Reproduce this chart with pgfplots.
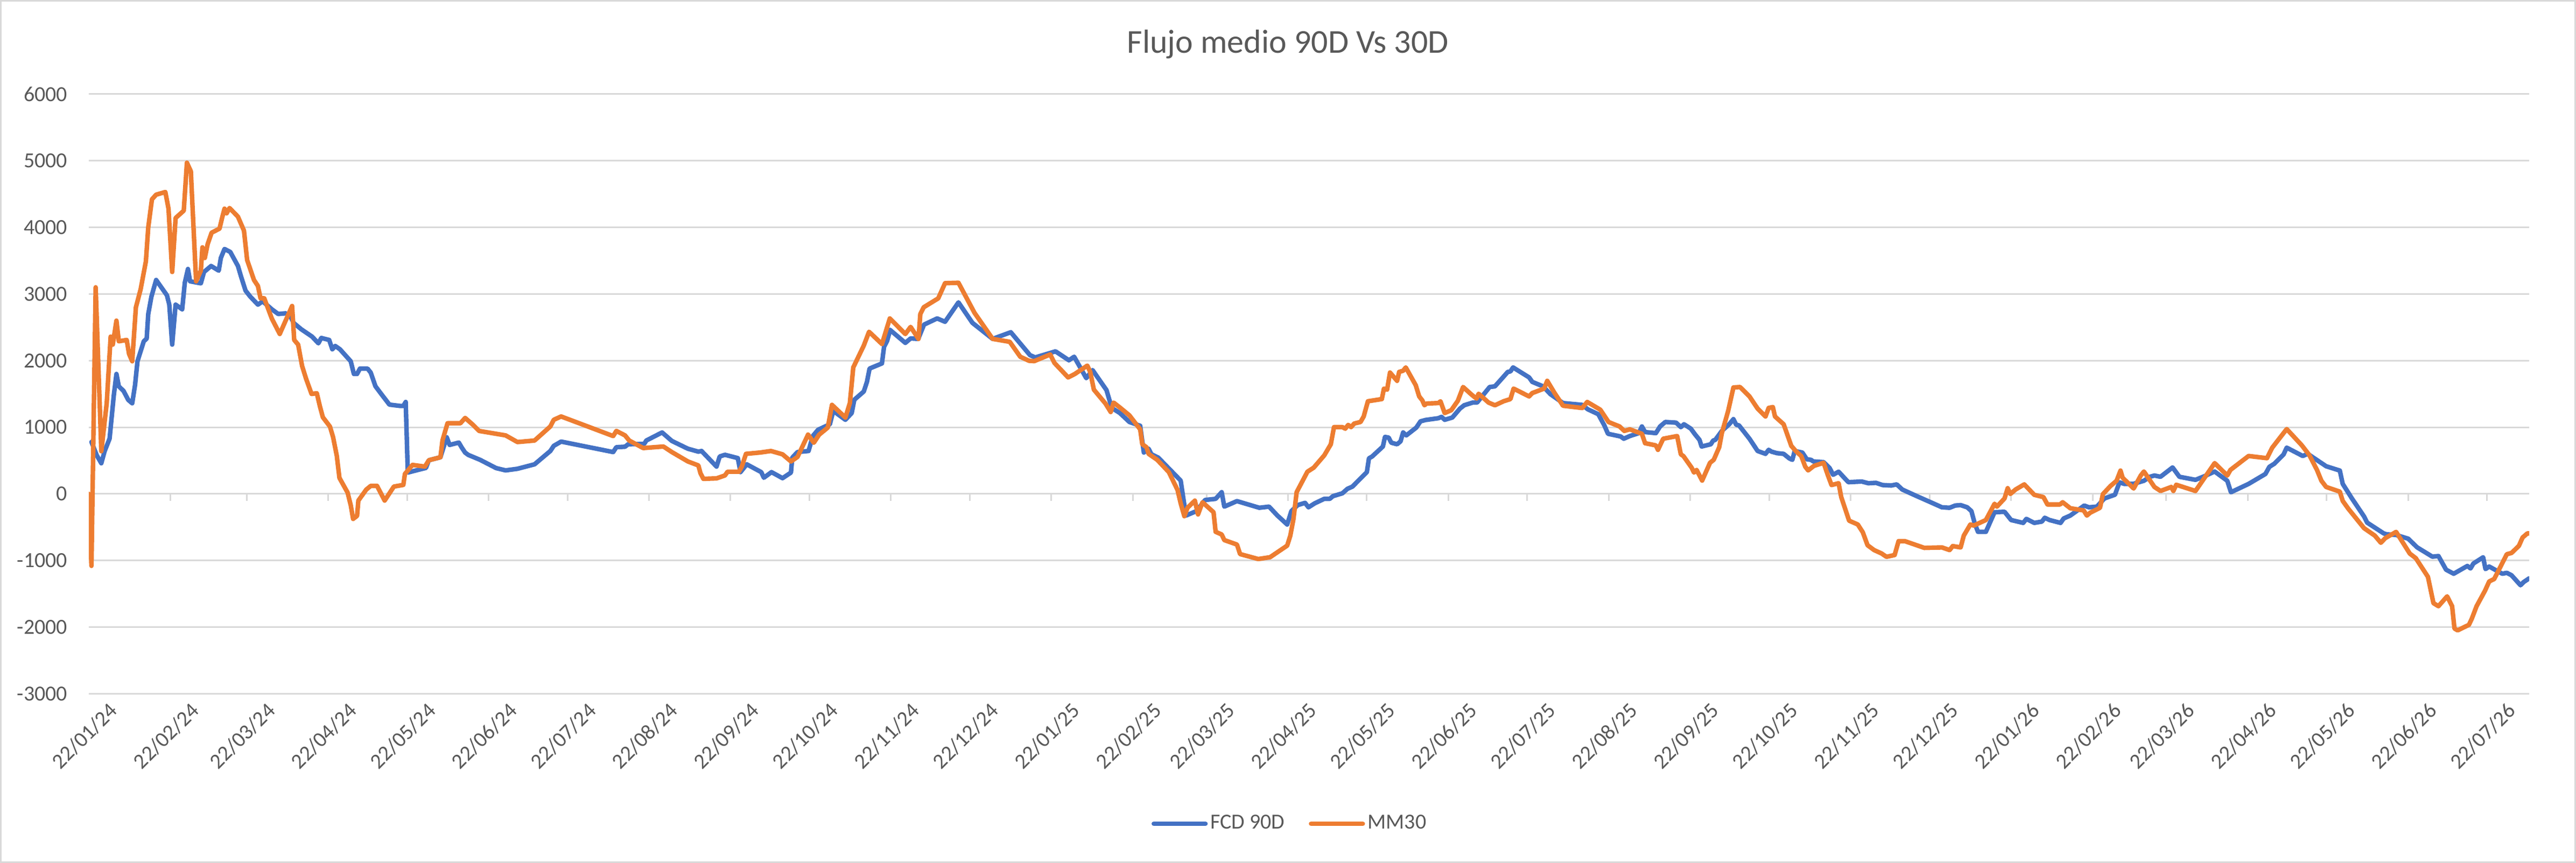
\documentclass[border=0pt]{standalone}
\usepackage{pgfplots}
\usepackage{pgfplotstable}
\pgfplotsset{compat=1.18}
\usepackage{fontspec}
\setmainfont{Carlito}
\definecolor{labelgray}{HTML}{595959}
\definecolor{gridgray}{HTML}{D9D9D9}
\definecolor{fcdblue}{HTML}{4472C4}
\definecolor{mmorange}{HTML}{ED7D31}

\pgfplotstableread{
d v
1 780
3 580
4.75 460
6 640
7.9 830
9.5 1480
10.5 1800
11.4 1615
13.2 1545
15 1410
16.5 1360
17.6 1640
18.5 1990
20.9 2290
22 2330
22.6 2700
23.8 2960
25.6 3210
29.7 2980
30.6 2840
31.7 2240
33 2840
35.5 2770
36.5 3170
37.7 3375
38.5 3190
42.6 3160
43.8 3330
46.5 3420
49.4 3350
50.2 3540
51.6 3675
53.8 3630
56.7 3420
57.9 3260
59.6 3050
61.4 2960
64.3 2840
66.1 2890
69.6 2770
72 2700
74.9 2710
76.7 2660
77.9 2565
80.8 2470
84.9 2360
87.3 2260
88.4 2340
91.4 2310
92.6 2170
93.7 2220
95.5 2170
99.6 1990
100.8 1800
102 1800
103.1 1880
106 1880
107.2 1820
109 1615
110.8 1520
114.3 1340
118.4 1320
119.6 1320
120.5 1380
121.3 320
123.7 345
128.2 390
129.3 505
133.7 550
136.1 850
137.2 735
140.7 770
141.9 690
143.1 620
144.3 585
148.8 511
154.9 387
158.5 353
163 377
169.5 444
175.5 644
176.8 721
179.6 785
199.4 628
200.6 701
203.9 708
205.1 745
211.2 751
212 801
218 922
221.7 795
227.8 678
231.8 634
233 644
238.7 410
239.9 561
241.9 587
246.8 537
247.8 327
250.2 444
255.7 327
256.7 243
259.6 327
263.8 236
267 320
267.5 544
269.5 628
273.7 644
275.3 868
277.3 962
281.8 1045
283.1 1246
287.7 1112
290.1 1213
291.1 1413
294.7 1537
295.9 1681
296.9 1881
301.6 1958
302.4 2206
303.6 2299
304.7 2460
310.5 2266
312.5 2333
315.4 2326
317.6 2540
322.6 2633
325.6 2583
330.7 2874
336 2567
343.7 2326
350.6 2426
357.9 2082
359.9 2048
367.6 2139
372.7 2005
374.7 2058
379.3 1737
381.7 1858
387 1557
389 1290
392.1 1213
395.7 1079
399.8 1022
401.2 621
403 678
404.1 594
406.7 544
415.2 200
417.2 -325
421.2 -258
424.5 -91
428.5 -74
430.8 26
431.8 -191
436.6 -108
445.1 -208
448.8 -191
452 -325
455.7 -459
457.3 -258
459.7 -168
462.5 -134
463.8 -201
466.2 -141
469.8 -74
471.9 -74
473.1 -34
476.7 9
478.6 76
480.5 109
486 327
486.8 534
488 561
492.1 711
492.9 855
494.3 845
495.3 768
497.5 745
498.8 788
499.8 922
501 878
504.8 995
506.4 1089
508.3 1109
513.2 1136
514.4 1156
515.6 1112
518.5 1146
521.4 1280
523 1330
526.2 1370
527.9 1370
532.7 1604
534.7 1614
537.2 1724
539.6 1831
540.6 1838
541.6 1898
547.7 1748
548.9 1681
553 1614
555.8 1497
560.6 1363
567.9 1336
570 1270
574 1196
576.3 1029
577.7 902
582.5 862
583.7 828
586 868
589.4 912
590.6 1012
591.8 928
595.9 912
597.5 1012
599.5 1079
603.6 1069
605.4 1002
606.6 1045
609.2 979
610.9 888
612.5 811
613.3 711
616.8 745
617.7 801
618.5 811
621 945
623.8 1045
625.4 1122
626.5 1035
627.5 1029
631.5 828
634.6 644
637.6 601
638.8 661
639.9 634
642 611
644.5 601
646.6 534
647.8 511
648.7 644
651.6 621
653.3 520
654.9 511
655.8 487
659.7 477
662 387
663.3 287
665.4 333
669.1 176
674.2 186
676.7 160
679.6 166
682.1 133
685.4 126
687.5 143
689.6 66
694.6 -24
701.3 -141
704.7 -201
707.6 -208
709.7 -175
711.8 -168
714.3 -201
715.9 -258
717.2 -449
718.4 -569
721.4 -569
724.7 -275
728.5 -268
731 -392
735.6 -435
736.8 -375
739.8 -435
742.7 -415
743.8 -358
745.6 -392
749.8 -435
751 -368
753.5 -325
758.8 -175
760.6 -201
763.6 -191
766.5 -68
770.5 -12
772.2 174
774 150
777.4 150
781.5 197
783.8 257
785.5 276
787.8 257
792.4 397
795 257
801.1 211
804.6 267
808.4 336
813.2 197
814.6 25
821.3 150
827.7 299
829.2 406
831.1 453
834.6 592
835.8 694
841.9 569
843.8 601
850.8 415
856 350
857.1 150
860.6 -68
865.2 -338
866.4 -431
872.7 -593
873.9 -607
877.4 -616
882 -672
885.4 -802
891.2 -942
893.5 -932
896.4 -1137
899.3 -1198
904.5 -1081
905.7 -1118
906.8 -1044
910.5 -951
911.4 -1128
912.8 -1090
917.8 -1198
919.5 -1184
921.3 -1221
924.7 -1370
925.9 -1323
928 -1267
}\fcdtable

\pgfplotstableread{
d v
0 0
1 -1080
2.6 3100
4.75 640
6.8 1360
8.3 2360
9.1 2240
10.5 2600
11.4 2290
14.4 2310
15.3 2100
16.5 1990
17.9 2800
19.7 3070
21.7 3490
22.6 4000
24 4420
25.6 4490
29.1 4530
30.3 4280
31.7 3330
33 4140
36.1 4250
37.3 4970
38.8 4840
39.7 4090
40.8 3190
42.6 3350
43.2 3700
44.1 3540
45.2 3750
46.7 3920
49.7 3980
50.8 4160
51.6 4280
52.4 4210
53.5 4290
56.7 4160
59 3950
60.2 3510
62.8 3210
64.3 3120
65.3 2935
66.7 2935
69.6 2630
72.6 2400
77.3 2820
78.1 2310
79.6 2240
81.1 1920
82.6 1730
84.7 1500
86.7 1510
87.9 1310
89 1150
91.7 1010
92.9 850
94.3 570
95.3 240
98.4 20
99.6 -170
100.5 -375
102 -330
102.5 -100
105.5 65
107.2 120
109.6 120
112.5 -100
116 110
119.6 135
120.2 300
123.1 435
127.8 410
129.3 505
133.7 550
134.5 805
136.4 1060
141.3 1060
143.1 1140
146 1040
148.4 945
158.5 878
163 778
169.5 801
175.5 1012
176.8 1112
179.6 1162
199.4 868
200.6 945
203.9 878
205.5 801
210.8 688
218.5 711
221.7 628
227.8 487
231.8 427
232.6 310
233.7 226
238.7 233
241.9 277
242.9 333
247.2 333
248.3 410
249.9 601
255.3 621
259.4 644
263.8 594
267 487
269.5 555
273.5 890
275.7 768
277.7 888
281 995
282.6 1336
287.7 1146
289.4 1363
290.7 1898
294.7 2226
296.7 2433
301.6 2249
304.6 2633
310.5 2399
312.5 2506
315.5 2326
316.2 2700
317.5 2801
323 2934
325.6 3162
330.7 3168
336.8 2717
343.7 2326
350.2 2282
354.2 2058
357.5 1998
359.5 1992
365.6 2092
367.2 1965
372.4 1748
374.9 1798
379.7 1925
380.8 1831
382.2 1564
386.6 1356
388.6 1229
389.7 1370
392.1 1296
395.7 1179
399.8 969
400.6 745
402.2 701
403 601
406.3 511
410.7 327
414 60
415.2 -141
416.6 -335
417.8 -208
420.6 -101
421.8 -308
423.5 -125
427.7 -275
428.5 -569
430.8 -609
431.8 -693
436.6 -760
437.8 -903
444.7 -977
449.2 -950
455.7 -776
456.9 -626
458.1 -375
459.3 26
463.4 333
465.8 394
469.8 578
472.3 745
473.5 1002
476.7 1002
477.8 979
478.9 1035
480 1002
481.2 1056
483.6 1079
484.8 1162
486.4 1390
491.7 1423
492.5 1580
493.7 1564
494.8 1821
497.5 1697
498.3 1831
499.8 1848
500.8 1898
504.6 1630
505.9 1463
507.1 1403
507.9 1330
508.7 1356
513.2 1363
514 1390
515.6 1213
518.1 1256
520.6 1397
522.6 1604
525.8 1490
527.7 1430
528.5 1503
532.3 1370
534.7 1330
538 1390
540.6 1423
541.8 1580
547.7 1463
548.9 1513
553.4 1580
554.6 1697
557.4 1513
560.6 1323
567.9 1289
569.8 1380
574.8 1263
577.9 1079
582.1 1012
583.9 945
586 969
590.6 902
591.8 761
595.9 728
596.7 661
598.7 828
604 868
605.4 594
606.4 567
609.5 394
610.4 320
611.4 360
613.5 200
616.5 467
617.9 511
620 701
621 912
623.4 1246
625.4 1597
627.9 1604
631.5 1463
634.6 1280
637.6 1162
638.8 1290
640.4 1303
641.2 1162
644.5 1045
647.4 721
649.1 644
651.2 567
652.7 410
653.8 353
656 420
659.7 467
661.2 293
662.7 133
665.4 160
666.4 -48
669.4 -402
672.7 -459
674.6 -576
676.4 -770
678.9 -843
681.7 -893
683.6 -944
686.7 -917
688.2 -709
690.6 -709
698 -810
704.7 -803
707.6 -843
708.8 -783
711.8 -803
713 -626
715.5 -459
716.8 -475
721.4 -392
724.7 -148
725.6 -191
728.5 -68
729.7 86
730.7 -1
732.7 66
736 143
739.8 -14
743.3 -48
744.8 -158
749.6 -158
750.6 -125
753.5 -215
758.6 -248
759.8 -325
761.1 -282
764.8 -208
765.9 -3
768.8 119
771.1 197
772.6 350
773.4 243
777.6 81
780.3 276
781.5 336
785.5 104
787.8 44
791.9 104
792.7 44
793.8 137
801.1 44
808.4 462
813.2 276
814.4 360
821.3 569
828.3 536
830.3 694
835.8 973
841.5 731
844.4 583
847.3 360
849 197
850.8 104
856 34
857.1 -105
859.2 -221
865.2 -514
869.3 -626
871.6 -733
873.3 -663
877.4 -570
882.6 -895
884.9 -965
889.5 -1244
891.6 -1639
893.5 -1685
896.8 -1537
898.7 -1685
899.6 -2020
900.8 -2048
905.1 -1964
906.2 -1871
908 -1685
911.2 -1453
912.8 -1314
914.7 -1277
919.5 -905
921.3 -886
924.1 -779
925.5 -654
927.3 -593
928 -593
}\mmtable

\begin{document}
\begin{tikzpicture}
\path[use as bounding box] (0pt,0pt) rectangle (1196.25pt,401pt);
\draw[gridgray, line width=0.75pt] (0.4pt,0.4pt) rectangle (1195.85pt,400.6pt);
\begin{axis}[
  at={(41.25pt,78.6pt)}, anchor=south west,
  scale only axis, width=1133.25pt, height=278.7pt,
  xmin=0, xmax=928, ymin=-3000, ymax=6000,
  axis line style={draw=none},
  major tick length=0pt,
  ytick={-3000,-2000,-1000,0,1000,2000,3000,4000,5000,6000},
  yticklabels={-3000,-2000,-1000,0,1000,2000,3000,4000,5000,6000},
  ymajorgrids, grid style={line width=0.75pt, draw=gridgray},
  xtick={0,31,60,91,121,152,182,213,244,274,305,335,366,397,425,456,486,517,547,578,609,639,670,700,731,762,790,821,851,882,912},
  xticklabels={22/01/24,22/02/24,22/03/24,22/04/24,22/05/24,22/06/24,22/07/24,22/08/24,22/09/24,22/10/24,22/11/24,22/12/24,22/01/25,22/02/25,22/03/25,22/04/25,22/05/25,22/06/25,22/07/25,22/08/25,22/09/25,22/10/25,22/11/25,22/12/25,22/01/26,22/02/26,22/03/26,22/04/26,22/05/26,22/06/26,22/07/26},
  ticklabel style={font=\fontsize{10}{12}\selectfont, text=labelgray},
  yticklabel style={anchor=east, inner sep=0pt, xshift=-9.75pt},
  xticklabel style={rotate=45, anchor=east, inner sep=0pt, xshift=4pt, yshift=-12.5pt},
  legend columns=2,
  legend style={at={(0.4923,-0.2165)}, anchor=center, draw=none, fill=none,
    font=\fontsize{10}{12}\selectfont, text=labelgray,
    /tikz/every even column/.append style={column sep=10pt},
    nodes={inner sep=1.2pt}},
  legend image code/.code={\draw[#1] (0pt,0pt) -- (24pt,0pt);},
]
\pgfplotsinvokeforeach{0,31,60,91,121,152,182,213,244,274,305,335,366,397,425,456,486,517,547,578,609,639,670,700,731,762,790,821,851,882,912}{
  \draw[gridgray, line width=0.75pt] (axis cs:#1,0) -- ++(0pt,-3.3pt);
}
\addplot[fcdblue, line width=2.1pt, line join=round, line cap=round, no marks] table[x=d,y=v] {\fcdtable};
\addlegendentry{FCD 90D}
\addplot[mmorange, line width=2.1pt, line join=round, line cap=round, no marks] table[x=d,y=v] {\mmtable};
\addlegendentry{MM30}
\end{axis}
\node[anchor=base, font=\fontsize{15.5}{18}\selectfont, text=labelgray] at (598.1pt,376.25pt) {Flujo medio 90D Vs 30D};
\end{tikzpicture}
\end{document}
